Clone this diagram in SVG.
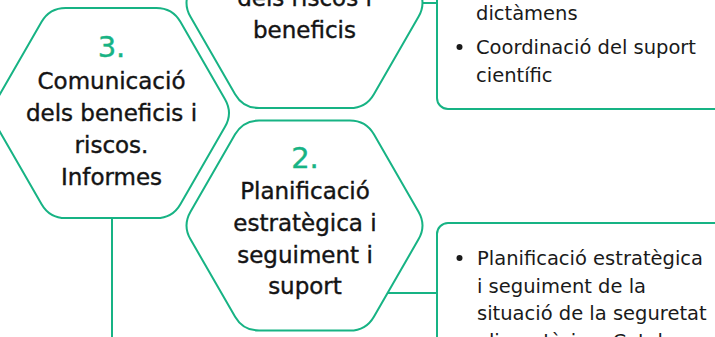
<svg xmlns="http://www.w3.org/2000/svg" width="715" height="337" viewBox="0 0 715 337">
<style>
.hex{fill:#fff;stroke:#17b384;stroke-width:2}
.box{fill:#fff;stroke:#17b384;stroke-width:2}
.con{fill:none;stroke:#17b384;stroke-width:2}
.ht{font-family:"DejaVu Sans",sans-serif;font-size:23px;fill:#141414;stroke:#141414;stroke-width:0.4;text-anchor:middle}
.num{font-family:"DejaVu Sans",sans-serif;font-size:29px;fill:#17b384;stroke:#17b384;stroke-width:0.4;text-anchor:middle}
.bt{font-family:"DejaVu Sans",sans-serif;font-size:19.5px;fill:#1a1a1a}
.bul{fill:#1a1a1a}
</style>
<rect width="715" height="337" fill="#fff"/>
<g id="connectors">
<line class="con" x1="112" y1="218" x2="112" y2="340"/>
<line class="con" x1="386" y1="293" x2="437" y2="293"/>
<line class="con" x1="422" y1="3" x2="437" y2="3"/>
</g>
<g id="box1">
<rect class="box" x="437" y="-100" width="320" height="209" rx="11"/>
<text class="bt" x="476" y="20">dictàmens</text>
<circle class="bul" cx="459.5" cy="47" r="3"/>
<text class="bt" x="476" y="54">Coordinació del suport</text>
<text class="bt" x="476" y="82">científic</text>
</g>
<g id="box2">
<rect class="box" x="437" y="223" width="320" height="200" rx="11"/>
<circle class="bul" cx="459.5" cy="258" r="3"/>
<text class="bt" x="477" y="265">Planificació estratègica</text>
<text class="bt" x="477" y="292.5">i seguiment de la</text>
<text class="bt" x="477" y="320">situació de la seguretat</text>
<text class="bt" x="477" y="347.5">alimentària a Catalunya</text>
</g>
<g id="hex1">
<path class="hex" d="M 259.1 -102 L 349.9 -102 Q 365.9 -102 373.9 -88.14 L 418.5 -10.86 Q 426.5 3 418.5 16.86 L 373.9 94.14 Q 365.9 108 349.9 108 L 259.1 108 Q 243.1 108 235.1 94.14 L 190.5 16.86 Q 182.5 3 190.5 -10.86 L 235.1 -88.14 Q 243.1 -102 259.1 -102 Z"/>
<text class="ht" x="304.5" y="6">dels riscos i</text>
<text class="ht" x="304.5" y="38">beneficis</text>
</g>
<g id="hex2">
<path class="hex" d="M 259.1 120.5 L 349.9 120.5 Q 365.9 120.5 373.9 134.36 L 418.5 211.64 Q 426.5 225.5 418.5 239.36 L 373.9 316.64 Q 365.9 330.5 349.9 330.5 L 259.1 330.5 Q 243.1 330.5 235.1 316.64 L 190.5 239.36 Q 182.5 225.5 190.5 211.64 L 235.1 134.36 Q 243.1 120.5 259.1 120.5 Z"/>
<text class="num" x="305" y="168">2.</text>
<text class="ht" x="305" y="199">Planificació</text>
<text class="ht" x="305" y="231">estratègica i</text>
<text class="ht" x="305" y="263">seguiment i</text>
<text class="ht" x="305" y="294">suport</text>
</g>
<g id="hex3">
<path class="hex" d="M 65.6 8 L 156.4 8 Q 172.4 8 180.4 21.86 L 225 99.14 Q 233 113 225 126.86 L 180.4 204.14 Q 172.4 218 156.4 218 L 65.6 218 Q 49.6 218 41.6 204.14 L -3 126.86 Q -11 113 -3 99.14 L 41.6 21.86 Q 49.6 8 65.6 8 Z"/>
<text class="num" x="111.5" y="57">3.</text>
<text class="ht" x="111.5" y="89">Comunicació</text>
<text class="ht" x="111.5" y="121">dels beneficis i</text>
<text class="ht" x="111.5" y="153">riscos.</text>
<text class="ht" x="111.5" y="185">Informes</text>
</g>
</svg>
